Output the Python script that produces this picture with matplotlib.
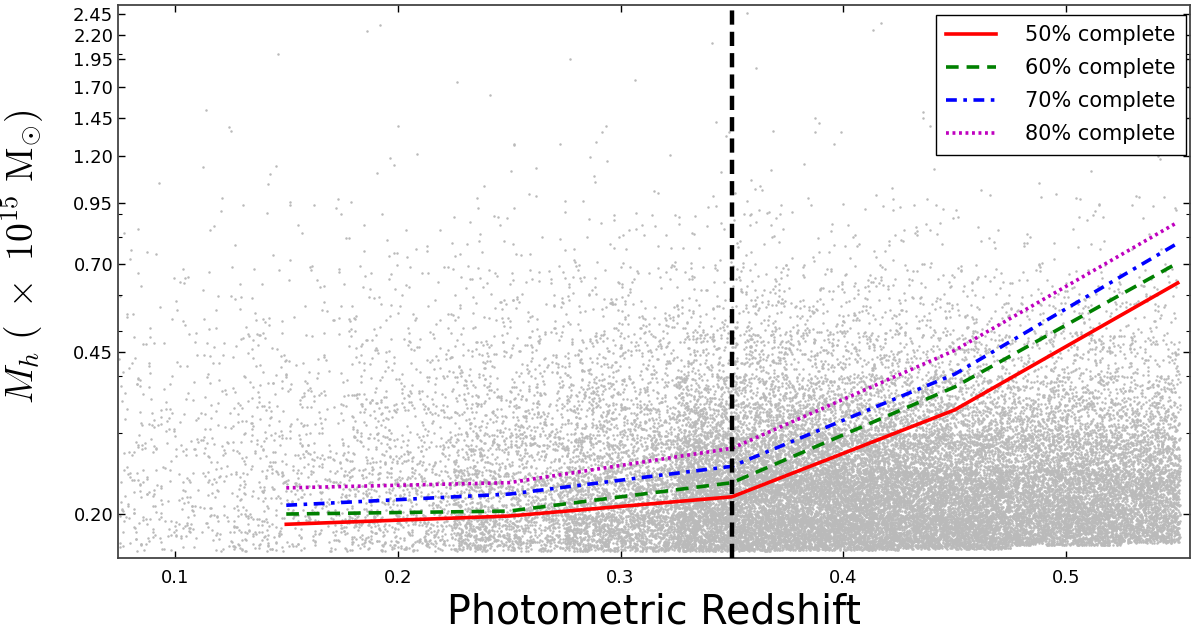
import numpy as np
import matplotlib
matplotlib.use("Agg")
import matplotlib.pyplot as plt
from matplotlib.ticker import FixedLocator, FormatStrFormatter, NullFormatter, LogLocator

# ---------------- data ----------------
# completeness curves (mass limit vs photometric redshift)
z_curve = [0.15, 0.25, 0.35, 0.45, 0.55]
m50 = [0.190, 0.198, 0.218, 0.337, 0.636]
m60 = [0.200, 0.203, 0.234, 0.378, 0.703]
m70 = [0.209, 0.221, 0.254, 0.403, 0.776]
m80 = [0.228, 0.234, 0.278, 0.454, 0.862]
curve_labels = ["50% complete", "60% complete", "70% complete", "80% complete"]

z_split = 0.35

z_edges = [0.075, 0.125, 0.175, 0.225, 0.275, 0.325, 0.375, 0.425, 0.475, 0.525, 0.551]
m_edges = [0.165, 0.20, 0.25, 0.30, 0.35, 0.40, 0.50, 0.60, 0.70, 1.00, 1.50, 2.50]
m_floor = [0.166, 0.166, 0.166, 0.166, 0.166, 0.166, 0.167, 0.168, 0.171, 0.173]
cloud_counts = [
    # .165-.2 .2-.25 .25-.3 .3-.35 .35-.4 .4-.5 .5-.6 .6-.7 .7-1 1-1.5 1.5-2.5
    [93,    90,   56,   38,  27,  30,  16, 10, 10,  3, 1],   # z 0.075-0.125
    [148,  140,   88,   55,  39,  45,  22, 14, 13,  4, 1],   # z 0.125-0.175
    [297,  251,  140,   87,  60,  65,  32, 19, 17,  5, 2],   # z 0.175-0.225
    [650,  540,  260,  145,  95, 105,  50, 28, 24,  6, 2],   # z 0.225-0.275
    [1150, 900,  430,  235, 140, 155,  66, 38, 32,  9, 2],   # z 0.275-0.325
    [2120, 2008, 1003, 484, 271, 251, 100, 55, 44, 11, 3],   # z 0.325-0.375
    [2332, 2259, 1123, 519, 271, 226,  88, 48, 32,  7, 2],   # z 0.375-0.425
    [2120, 2008, 1003, 450, 241, 201,  80, 42, 28,  5, 1],   # z 0.425-0.475
    [1600, 1750,  850, 400, 215, 180,  70, 36, 24,  5, 0],   # z 0.475-0.525
    [650,   850,  400, 190,  98,  82,  33, 17, 11,  2, 0],   # z 0.525-0.551
]

yticks = [0.20, 0.45, 0.70, 0.95, 1.20, 1.45, 1.70, 1.95, 2.20, 2.45]
xticks = [0.1, 0.2, 0.3, 0.4, 0.5]

# ---------------- build cloud from the density table ----------------
rng = np.random.default_rng(7)
zs, ms = [], []
for i, row in enumerate(cloud_counts):
    for j, n in enumerate(row):
        if n <= 0:
            continue
        lo = max(m_edges[j], m_floor[i])
        hi = m_edges[j + 1]
        zs.append(rng.uniform(z_edges[i], z_edges[i + 1], n))
        ms.append(10 ** rng.uniform(np.log10(lo), np.log10(hi), n))
zs = np.concatenate(zs)
ms = np.concatenate(ms)

# ---------------- plot ----------------
plt.rcParams["mathtext.fontset"] = "cm"
fig = plt.figure(figsize=(11.92, 6.33), dpi=100)
ax = fig.add_axes([0.099, 0.1185, 0.8993, 0.8735])

ax.plot(zs, ms, linestyle="none", marker="o", ms=1.8, mew=0,
        color="#bababa", zorder=1)

lw = 2.6
ax.plot(z_curve, m50, color="red", lw=lw, ls="-", label=curve_labels[0], zorder=3)
ax.plot(z_curve, m60, color="green", lw=lw, ls=(0, (3.5, 2.2)), label=curve_labels[1], zorder=3)
ax.plot(z_curve, m70, color="blue", lw=lw, ls=(0, (3.0, 1.8, 1.0, 1.8)), label=curve_labels[2], zorder=3)
ax.plot(z_curve, m80, color=(0.75, 0, 0.75), lw=lw, ls=(0, (0.8, 1.0)), label=curve_labels[3], zorder=3)

ax.axvline(z_split, color="black", lw=3.2, ls=(0, (3.2, 1.6)), zorder=4)

ax.set_yscale("log")
ax.set_xlim(0.0745, 0.5555)
ax.set_ylim(0.1605, 2.556)
ax.yaxis.set_major_locator(FixedLocator(yticks))
ax.yaxis.set_major_formatter(FormatStrFormatter("%.2f"))
ax.yaxis.set_minor_locator(LogLocator(base=10, subs=np.arange(2, 10)))
ax.yaxis.set_minor_formatter(NullFormatter())
ax.xaxis.set_major_locator(FixedLocator(xticks))
ax.xaxis.set_major_formatter(FormatStrFormatter("%.1f"))

ax.tick_params(which="both", direction="in", top=True, right=True, labelsize=13, colors="black")
ax.tick_params(which="major", length=5, width=1)
ax.tick_params(which="minor", length=3, width=0.8)
ax.tick_params(axis="x", pad=8)
for s in ax.spines.values():
    s.set_color("#444444")
    s.set_linewidth(1.3)

ax.set_xlabel("Photometric Redshift", fontsize=28.5, labelpad=4)
ax.set_ylabel(r"$M_h\ (\ \times\ 10^{15}\ \mathrm{M}_{\odot})$", fontsize=27)
ax.yaxis.set_label_coords(-0.067, 0.545)

leg = ax.legend(loc="upper right", bbox_to_anchor=(0.9965, 0.982), fontsize=15,
                fancybox=False, framealpha=1, edgecolor="black",
                handlelength=2.4, borderpad=0.5, labelspacing=0.62,
                handletextpad=1.4, borderaxespad=0.0)
leg.get_frame().set_linewidth(1.0)

fig.savefig("out.png", dpi=100)
